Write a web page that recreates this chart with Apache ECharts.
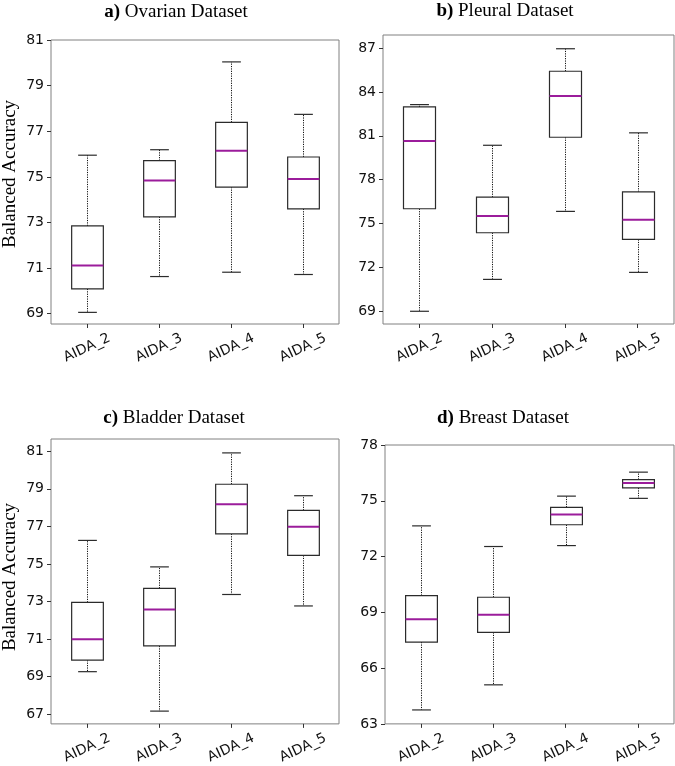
<!DOCTYPE html>
<html>
<head>
<meta charset="utf-8">
<script src="https://cdn.jsdelivr.net/npm/echarts@6/dist/echarts.min.js"></script>
<style>
html,body{margin:0;padding:0;background:#fff;}
#chart{width:675px;height:766px;}
</style>
</head>
<body>
<div id="chart"></div>
<script>
// Categories
const categories = ['AIDA_2', 'AIDA_3', 'AIDA_4', 'AIDA_5'];

// Box statistics per category: [lower whisker, Q1, median, Q3, upper whisker]
const ovarian = [
  [69.06, 70.09, 71.11, 72.85, 75.95],
  [70.63, 73.25, 74.84, 75.71, 76.19],
  [70.82, 74.55, 76.15, 77.39, 80.04],
  [70.72, 73.60, 74.91, 75.87, 77.74]
];
const pleural = [
  [69.00, 76.01, 80.65, 82.97, 83.13],
  [71.18, 74.37, 75.51, 76.80, 80.35],
  [75.83, 80.90, 83.72, 85.41, 86.95],
  [71.66, 73.91, 75.26, 77.17, 81.20]
];
const bladder = [
  [69.26, 69.87, 70.98, 72.95, 76.25],
  [67.16, 70.63, 72.57, 73.70, 74.84],
  [73.37, 76.60, 78.17, 79.24, 80.91],
  [72.76, 75.45, 76.98, 77.85, 78.63]
];
const breast = [
  [63.75, 67.40, 68.63, 69.90, 73.65],
  [65.10, 67.92, 68.87, 69.81, 72.54],
  [72.59, 73.71, 74.26, 74.65, 75.25],
  [75.13, 75.69, 75.95, 76.14, 76.54]
];

// Y tick labels
const ticksOvarian = [69, 71, 73, 75, 77, 79, 81];
const ticksPleural = [69, 72, 75, 78, 81, 84, 87];
const ticksBladder = [67, 69, 71, 73, 75, 77, 79, 81];
const ticksBreast = [63, 66, 69, 72, 75, 78];

const titleTexts = [
  ['a)', 'Ovarian Dataset'],
  ['b)', 'Pleural Dataset'],
  ['c)', 'Bladder Dataset'],
  ['d)', 'Breast Dataset']
];
const yLabel = 'Balanced Accuracy';

const panels = [
  {data: ovarian, ticks: ticksOvarian, min: 68.55, max: 81.0,
   grid: {left: 51, top: 40, width: 288, height: 284}, title: {x: 176, y: 12}, ylab: {x: 10, y: 174}},
  {data: pleural, ticks: ticksPleural, min: 68.13, max: 87.89,
   grid: {left: 383, top: 35, width: 291, height: 289}, title: {x: 505, y: 11}},
  {data: bladder, ticks: ticksBladder, min: 66.48, max: 81.65,
   grid: {left: 51, top: 439, width: 288, height: 290}, title: {x: 174, y: 418}, ylab: {x: 10, y: 577}},
  {data: breast, ticks: ticksBreast, min: 63, max: 78,
   grid: {left: 385, top: 445, width: 289, height: 288}, title: {x: 503, y: 418}}
];

const MEDIAN_COLOR = '#9b1c9b';
const EDGE = '#2b2b2b';

function renderBox(params, api) {
  const idx = api.value(0);
  const lo = api.value(1), q1 = api.value(2), med = api.value(3), q3 = api.value(4), hi = api.value(5);
  const band = api.size([1, 0])[0];
  const boxHalf = band * 0.22;
  const capHalf = band * 0.13;
  const pLo = api.coord([idx, lo]);
  const pQ1 = api.coord([idx, q1]);
  const pMed = api.coord([idx, med]);
  const pQ3 = api.coord([idx, q3]);
  const pHi = api.coord([idx, hi]);
  const cx = Math.round(pMed[0]) + 0.5;
  const dash = {stroke: '#111', lineWidth: 1, lineDash: [1.2, 1.2]};
  const solid = {stroke: EDGE, lineWidth: 1.2};
  return {
    type: 'group',
    children: [
      {type: 'line', shape: {x1: cx, y1: pQ3[1], x2: cx, y2: pHi[1]}, style: dash},
      {type: 'line', shape: {x1: cx, y1: pQ1[1], x2: cx, y2: pLo[1]}, style: dash},
      {type: 'line', shape: {x1: cx - capHalf, y1: pHi[1], x2: cx + capHalf, y2: pHi[1]}, style: solid},
      {type: 'line', shape: {x1: cx - capHalf, y1: pLo[1], x2: cx + capHalf, y2: pLo[1]}, style: solid},
      {type: 'rect', shape: {x: cx - boxHalf, y: pQ3[1], width: boxHalf * 2, height: pQ1[1] - pQ3[1]},
       style: {fill: '#fff', stroke: EDGE, lineWidth: 1.2}},
      {type: 'line', shape: {x1: cx - boxHalf, y1: pMed[1], x2: cx + boxHalf, y2: pMed[1]},
       style: {stroke: MEDIAN_COLOR, lineWidth: 2}}
    ]
  };
}

const grids = [], xAxes = [], yAxes = [], series = [], graphics = [];
panels.forEach((p, i) => {
  grids.push(Object.assign({show: true, borderColor: '#808080', borderWidth: 1, backgroundColor: '#fff'}, p.grid));
  xAxes.push({
    type: 'category', gridIndex: i, data: categories,
    axisLine: {show: false},
    axisTick: {show: true, alignWithLabel: true, length: 4, lineStyle: {color: '#333'}},
    axisLabel: {rotate: 25, align: 'center', verticalAlign: 'middle', margin: 24,
      fontFamily: 'DejaVu Sans', fontSize: 14, color: '#111'},
    splitLine: {show: false}
  });
  yAxes.push({
    type: 'value', gridIndex: i, min: p.min, max: p.max,
    axisLine: {show: false},
    axisTick: {show: true, length: 4, customValues: p.ticks, lineStyle: {color: '#333'}},
    axisLabel: {customValues: p.ticks, margin: 7, fontFamily: 'DejaVu Sans', fontSize: 14, color: '#111'},
    splitLine: {show: false}
  });
  series.push({
    type: 'custom', xAxisIndex: i, yAxisIndex: i,
    renderItem: renderBox,
    encode: {x: 0, y: [1, 2, 3, 4, 5]},
    data: p.data.map((d, k) => [k].concat(d)),
    silent: true
  });
  graphics.push({
    type: 'text', x: p.title.x, y: p.title.y,
    style: {
      text: '{b|' + titleTexts[i][0] + '} ' + titleTexts[i][1],
      fontFamily: 'Liberation Serif', fontSize: 19, fill: '#000',
      align: 'center', verticalAlign: 'middle',
      rich: {b: {fontWeight: 'bold', fontFamily: 'Liberation Serif', fontSize: 19}}
    }
  });
  if (p.ylab) {
    graphics.push({
      type: 'text', x: p.ylab.x, y: p.ylab.y, rotation: Math.PI / 2,
      style: {text: yLabel, fontFamily: 'Liberation Serif', fontSize: 19, fill: '#000',
        align: 'center', verticalAlign: 'middle'}
    });
  }
});

const chart = echarts.init(document.getElementById('chart'), null, {renderer: 'canvas'});
chart.setOption({
  backgroundColor: '#fff',
  animation: false,
  grid: grids,
  xAxis: xAxes,
  yAxis: yAxes,
  series: series,
  graphic: graphics
});
</script>
</body>
</html>
